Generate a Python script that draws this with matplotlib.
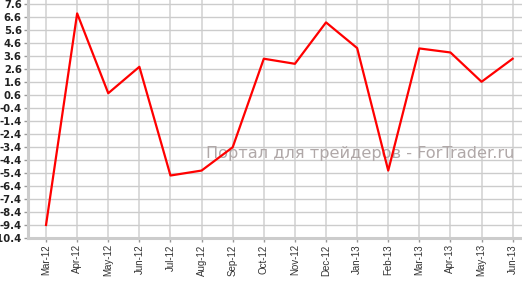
import numpy as np
import matplotlib.pyplot as plt

months = ['Mar-12', 'Apr-12', 'May-12', 'Jun-12', 'Jul-12', 'Aug-12', 'Sep-12', 'Oct-12',
          'Nov-12', 'Dec-12', 'Jan-13', 'Feb-13', 'Mar-13', 'Apr-13', 'May-13', 'Jun-13']
values = [-9.4, 6.85, 0.72, 2.75, -5.6, -5.22, -3.43, 3.37,
          2.98, 6.16, 4.19, -5.22, 4.16, 3.85, 1.6, 3.37]
yticks = np.round(np.arange(-10.4, 7.61, 1.0), 1)

fig = plt.figure(figsize=(5.22, 2.81), dpi=100)
ax = fig.add_axes([28/522, 43/281, 1 - 28/522, 1 - 43/281 - 0.4/281])

x = np.arange(len(months))
ax.plot(x, values, color='#ff0000', lw=1.6, zorder=3)

ax.set_xlim(-0.58, 15.3)
ax.set_ylim(-10.4, 7.85)
ax.set_xticks(x)
ax.set_xticklabels(months, rotation=90, fontsize=7, color='#333333', family='Liberation Sans')
ax.set_yticks(yticks)
ax.set_yticklabels([f'{v:.1f}' for v in yticks], fontsize=7.3, fontweight='bold', color='#222222')

ax.grid(axis='y', color='#cccccc', lw=1.0)
ax.grid(axis='x', color='#d8d8d8', lw=1.3)
ax.set_axisbelow(True)

for s in ['top', 'right']:
    ax.spines[s].set_visible(False)
for s in ['left', 'bottom']:
    ax.spines[s].set_color('#cccccc')
    ax.spines[s].set_linewidth(2.2)
ax.tick_params(axis='both', length=3, width=1, color='#999999', pad=1.5)

ax.text(0.673, 0.337, 'Портал для трейдеров - ForTrader.ru', transform=ax.transAxes,
        fontsize=11.6, color='#b0a8a8', ha='center', va='baseline', zorder=2)

fig.savefig('out.png', dpi=100)
